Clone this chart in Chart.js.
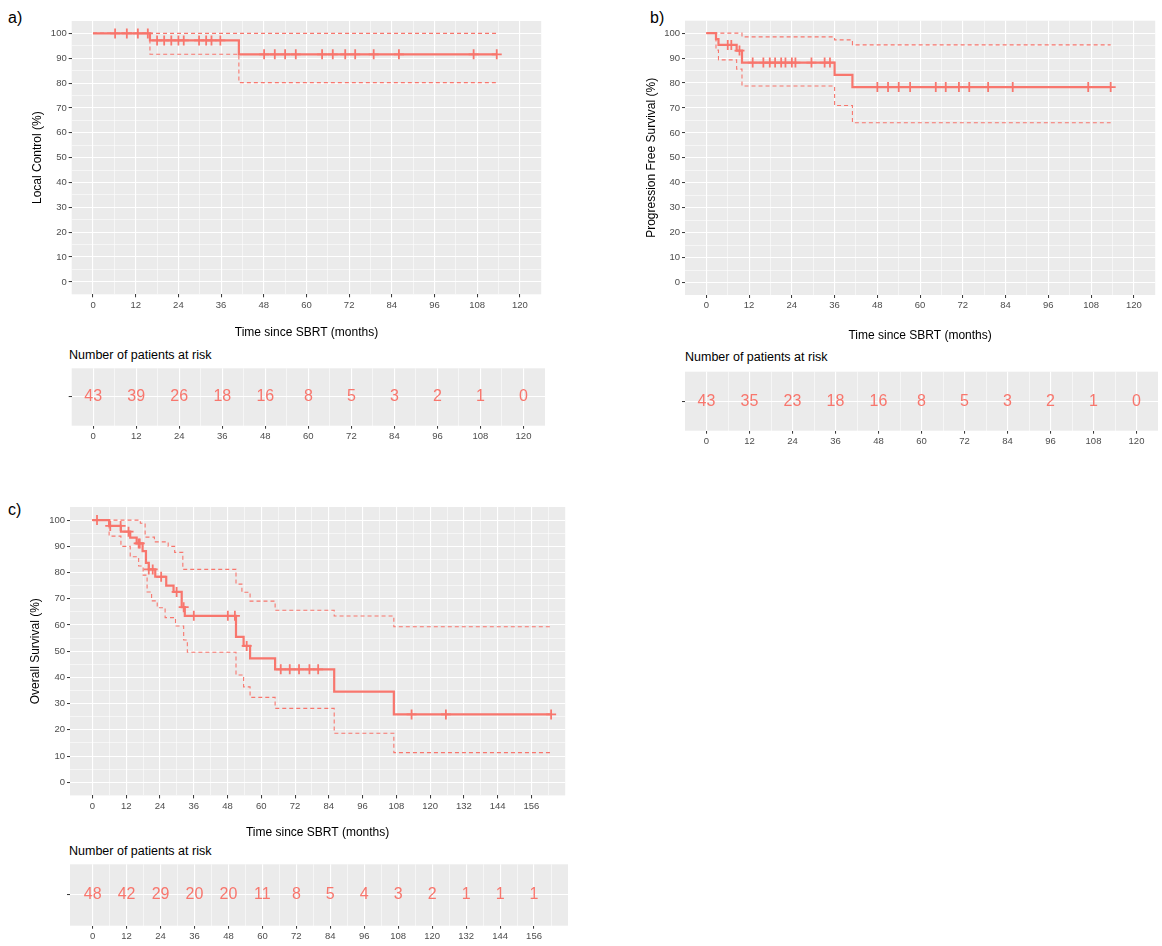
<!DOCTYPE html>
<html>
<head>
<meta charset="utf-8">
<script src="https://cdn.jsdelivr.net/npm/chart.js@4.4.1/dist/chart.umd.min.js"></script>
<style>
  body { margin: 0; background: #fff; width: 1162px; height: 946px; position: relative; overflow: hidden;
         font-family: "Liberation Sans", Arial, sans-serif; }
  .box { position: absolute; }
  .tag { position: absolute; font-size: 16px; line-height: 18px; color: #000; }
  .risk-title { position: absolute; font-size: 12.5px; line-height: 14px; color: #000; white-space: nowrap; }
</style>
</head>
<body>

<div class="tag" style="left:8px;top:9px">a)</div>
<div class="tag" style="left:650px;top:9px">b)</div>
<div class="tag" style="left:8px;top:501px">c)</div>

<div class="risk-title" style="left:69px;top:348px">Number of patients at risk</div>
<div class="risk-title" style="left:685px;top:350px">Number of patients at risk</div>
<div class="risk-title" style="left:69px;top:844px">Number of patients at risk</div>

<div class="box" style="left:0;top:0"><canvas id="kmA" width="548" height="345"></canvas></div>
<div class="box" style="left:0;top:345px"><canvas id="riskA" width="548" height="100"></canvas></div>
<div class="box" style="left:614px;top:0"><canvas id="kmB" width="548" height="345"></canvas></div>
<div class="box" style="left:614px;top:345px"><canvas id="riskB" width="548" height="110"></canvas></div>
<div class="box" style="left:0;top:480px"><canvas id="kmC" width="572" height="362"></canvas></div>
<div class="box" style="left:0;top:842px"><canvas id="riskC" width="572" height="104"></canvas></div>

<script>
// tick labels
const timeTicksAB = [0, 12, 24, 36, 48, 60, 72, 84, 96, 108, 120];
const timeTicksC = [0, 12, 24, 36, 48, 60, 72, 84, 96, 108, 120, 132, 144, 156];
const survTicks = [0, 10, 20, 30, 40, 50, 60, 70, 80, 90, 100];

// a) local control
const lcTime = [0, 16, 41, 113.5];
const lcSurv = [100, 97.2, 91.6, 91.6];
const lcUpTime = [0, 113.5];
const lcUp = [100, 100];
const lcLoTime = [0, 16, 41, 113.5];
const lcLo = [100, 91.6, 80.2, 80.2];
const lcCensor = [6.2, 9.5, 12.6, 15.4, 18, 20, 22, 24, 25.5, 29.8, 31.8, 33.3, 35.8,
                  48.1, 51.1, 54, 57, 64.4, 67.4, 70.9, 73.7, 78.9, 86, 107, 113.5];
const lcRisk = [43, 39, 26, 18, 16, 8, 5, 3, 2, 1, 0];

// b) progression free survival
const pfsTime = [0, 2.7, 3.4, 8.5, 10, 36, 41, 113.5];
const pfsSurv = [100, 97.6, 95.3, 93, 88.2, 83.3, 78.4, 78.4];
const pfsUpTime = [0, 10, 36, 41, 113.5];
const pfsUp = [100, 98.5, 97.3, 95.3, 95.3];
const pfsLoTime = [0, 2.7, 3.4, 8.5, 10, 36, 41, 113.5];
const pfsLo = [100, 93.2, 89.3, 85.6, 78.8, 71, 64.1, 64.1];
const pfsCensor = [6, 7, 9.3, 13, 16, 17.8, 19.3, 21, 22.2, 24, 25, 29.5, 33.2, 34.7,
                   48, 51, 54, 57.2, 64.4, 67.2, 70.9, 73.8, 79.1, 86, 107.2, 113.5];
const pfsRisk = [43, 35, 23, 18, 16, 8, 5, 3, 2, 1, 0];

// c) overall survival
const osTime = [0, 5.9, 10.1, 13.4, 15.7, 17.8, 19, 20, 22.3, 26.2, 28.8, 31.7, 32.8,
                51, 53.7, 56, 64.9, 85.9, 107.1, 163];
const osSurv = [100, 97.8, 95.6, 93.3, 91.1, 88.2, 83.7, 81.2, 78.4, 75, 72.6, 66.8, 63.5,
                55.5, 52, 47.3, 43.1, 34.6, 25.9, 25.9];
const osUpTime = [0, 17, 18.7, 22, 26.9, 29.2, 32.1, 51, 53.1, 56, 64.9, 85.9, 107.1, 163];
const osUp = [100, 98.8, 93.5, 91.7, 90, 87.7, 81.2, 75.6, 72.5, 69.1, 65.6, 63.4, 59.3, 59.3];
const osLoTime = [0, 5.9, 10.1, 13.4, 16.4, 18, 19.4, 21, 23, 25.8, 29.5, 32.4, 33.7,
                  51, 53.7, 56, 64.9, 85.9, 107.1, 163];
const osLo = [100, 93.9, 90, 86, 82.5, 79, 72.6, 69.2, 66.6, 62.8, 59.6, 54.3, 49.6,
              40.9, 36.4, 32.4, 28.2, 18.7, 11.3, 11.3];
const osCensor = [1.6, 6.3, 10, 12.8, 16.4, 16.8, 20, 21.4, 24.4, 29.9, 32.4, 36, 48.1, 50.6,
                  54.8, 66.9, 70.1, 73.4, 77.1, 80.2, 113.4, 125.6, 163];
const osRisk = [48, 42, 29, 20, 20, 11, 8, 5, 4, 3, 2, 1, 1, 1];

const RED = '#F8766D';
Chart.defaults.font.family = '"Liberation Sans", Arial, sans-serif';
Chart.defaults.animation = false;

const panelBg = {
  id: 'panelBg',
  beforeDraw(chart) {
    const { ctx, chartArea: a } = chart;
    ctx.save();
    ctx.fillStyle = '#EBEBEB';
    ctx.fillRect(a.left, a.top, a.right - a.left, a.bottom - a.top);
    ctx.restore();
  }
};

const riskLabels = {
  id: 'riskLabels',
  afterDatasetsDraw(chart) {
    const { ctx } = chart;
    const meta = chart.getDatasetMeta(0);
    const ds = chart.data.datasets[0].data;
    ctx.save();
    ctx.fillStyle = RED;
    ctx.font = '16px "Liberation Sans", Arial, sans-serif';
    ctx.textAlign = 'center';
    ctx.textBaseline = 'middle';
    meta.data.forEach((el, i) => ctx.fillText(String(ds[i].n), el.x, el.y));
    ctx.restore();
  }
};

function pts(times, vals) {
  return times.map((t, i) => ({ x: t, y: vals[i] }));
}
function survAt(times, vals, t) {
  let v = vals[0];
  for (let i = 0; i < times.length; i++) if (times[i] <= t) v = vals[i];
  return v;
}
function allTicks(majors, step, max) {
  const out = [];
  majors.forEach(v => { out.push(v); if (v + step < max) out.push(v + step); });
  return out;
}

function xAxis(majors, max, opts) {
  const isMajor = v => majors.includes(v);
  return {
    type: 'linear', min: -max / 21, max: max,
    afterBuildTicks: s => { s.ticks = allTicks(majors, 6, max).map(v => ({ value: v })); },
    afterFit: s => { s.height = opts.height; },
    border: { display: false },
    grid: {
      color: '#FFFFFF',
      lineWidth: c => isMajor(c.tick.value) ? 1.1 : 0.55,
      tickColor: c => isMajor(c.tick.value) ? '#333333' : 'rgba(0,0,0,0)',
      tickLength: 3, tickWidth: 1
    },
    ticks: {
      autoSkip: false, maxRotation: 0, padding: 2, color: '#4D4D4D',
      font: { size: 9.5 },
      callback: v => isMajor(v) ? String(v) : ''
    },
    title: opts.title ? {
      display: true, text: opts.title, color: '#000', font: { size: 12 },
      padding: { top: 0, bottom: opts.titlePad }
    } : { display: false }
  };
}

function kmChart(id, c) {
  const yMajor = v => survTicks.includes(v);
  const censorPts = c.censor.map(t => ({ x: t, y: survAt(c.time, c.surv, t) }));
  new Chart(document.getElementById(id), {
    type: 'line',
    data: {
      datasets: [
        { data: pts(c.upTime, c.up), borderColor: RED, borderWidth: 1.1, borderDash: [4, 3],
          stepped: true, pointRadius: 0, fill: false },
        { data: pts(c.loTime, c.lo), borderColor: RED, borderWidth: 1.1, borderDash: [4, 3],
          stepped: true, pointRadius: 0, fill: false },
        { data: pts(c.time, c.surv), borderColor: RED, borderWidth: 2.2,
          stepped: true, pointRadius: 0, fill: false },
        { type: 'scatter', data: censorPts, borderColor: RED, backgroundColor: RED,
          pointStyle: 'cross', pointRadius: 5, borderWidth: 1.8, showLine: false }
      ]
    },
    options: {
      responsive: false, devicePixelRatio: 1,
      layout: { padding: { top: c.padTop, right: c.padRight, left: 0, bottom: 0 } },
      plugins: { legend: { display: false }, tooltip: { enabled: false } },
      scales: {
        x: xAxis(c.majors, c.max, { height: c.xHeight, title: 'Time since SBRT (months)', titlePad: c.xTitlePad }),
        y: {
          type: 'linear', min: -5, max: 105,
          afterBuildTicks: s => { s.ticks = allTicks(survTicks, 5, 100).map(v => ({ value: v })); },
          afterFit: s => { s.width = c.yWidth; },
          border: { display: false },
          grid: {
            color: '#FFFFFF',
            lineWidth: t => yMajor(t.tick.value) ? 1.1 : 0.55,
            tickColor: t => yMajor(t.tick.value) ? '#333333' : 'rgba(0,0,0,0)',
            tickLength: 3, tickWidth: 1
          },
          ticks: { autoSkip: false, padding: 2, color: '#4D4D4D', font: { size: 9.5 },
                   callback: v => yMajor(v) ? String(v) : '' },
          title: { display: true, text: c.yTitle, color: '#000', font: { size: 12 },
                   padding: { top: c.yTitlePad, bottom: 0 } }
        }
      }
    },
    plugins: [panelBg]
  });
}

function riskChart(id, c) {
  new Chart(document.getElementById(id), {
    type: 'scatter',
    data: {
      datasets: [{ data: c.times.map((t, i) => ({ x: t, y: 0, n: c.risk[i] })), pointRadius: 0 }]
    },
    options: {
      responsive: false, devicePixelRatio: 1,
      layout: { padding: { top: c.padTop, right: c.padRight, left: 0, bottom: 0 } },
      plugins: { legend: { display: false }, tooltip: { enabled: false } },
      scales: {
        x: xAxis(c.majors, c.max, { height: c.xHeight }),
        y: {
          type: 'linear', min: -1, max: 1,
          afterBuildTicks: s => { s.ticks = [{ value: 0 }]; },
          afterFit: s => { s.width = c.yWidth; },
          border: { display: false },
          grid: { color: '#FFFFFF', lineWidth: 1.1, tickColor: '#333333', tickLength: 3, tickWidth: 1 },
          ticks: { padding: 2, font: { size: 9 }, callback: () => '' }
        }
      }
    },
    plugins: [panelBg, riskLabels]
  });
}

kmChart('kmA', {
  time: lcTime, surv: lcSurv, upTime: lcUpTime, up: lcUp, loTime: lcLoTime, lo: lcLo, censor: lcCensor,
  majors: timeTicksAB, max: 126, padTop: 21, padRight: 3, yWidth: 71.7, xHeight: 50.7,
  xTitlePad: 5, yTitle: 'Local Control (%)', yTitlePad: 30
});
riskChart('riskA', { times: timeTicksAB, risk: lcRisk, majors: timeTicksAB, max: 126,
  padTop: 23.3, padRight: 3, yWidth: 71.7, xHeight: 19.3 });

kmChart('kmB', {
  time: pfsTime, surv: pfsSurv, upTime: pfsUpTime, up: pfsUp, loTime: pfsLoTime, lo: pfsLo, censor: pfsCensor,
  majors: timeTicksAB, max: 126, padTop: 20.7, padRight: 4, yWidth: 71, xHeight: 50,
  xTitlePad: 2, yTitle: 'Progression Free Survival (%)', yTitlePad: 30
});
riskChart('riskB', { times: timeTicksAB, risk: pfsRisk, majors: timeTicksAB, max: 126,
  padTop: 26.7, padRight: 4, yWidth: 71, xHeight: 24.3 });

kmChart('kmC', {
  time: osTime, surv: osSurv, upTime: osUpTime, up: osUp, loTime: osLoTime, lo: osLo, censor: osCensor,
  majors: timeTicksC, max: 168, padTop: 27, padRight: 4, yWidth: 70, xHeight: 46.6,
  xTitlePad: 2, yTitle: 'Overall Survival (%)', yTitlePad: 28
});
riskChart('riskC', { times: timeTicksC, risk: osRisk, majors: timeTicksC, max: 168,
  padTop: 22.3, padRight: 4, yWidth: 70, xHeight: 20.3 });
</script>
</body>
</html>
